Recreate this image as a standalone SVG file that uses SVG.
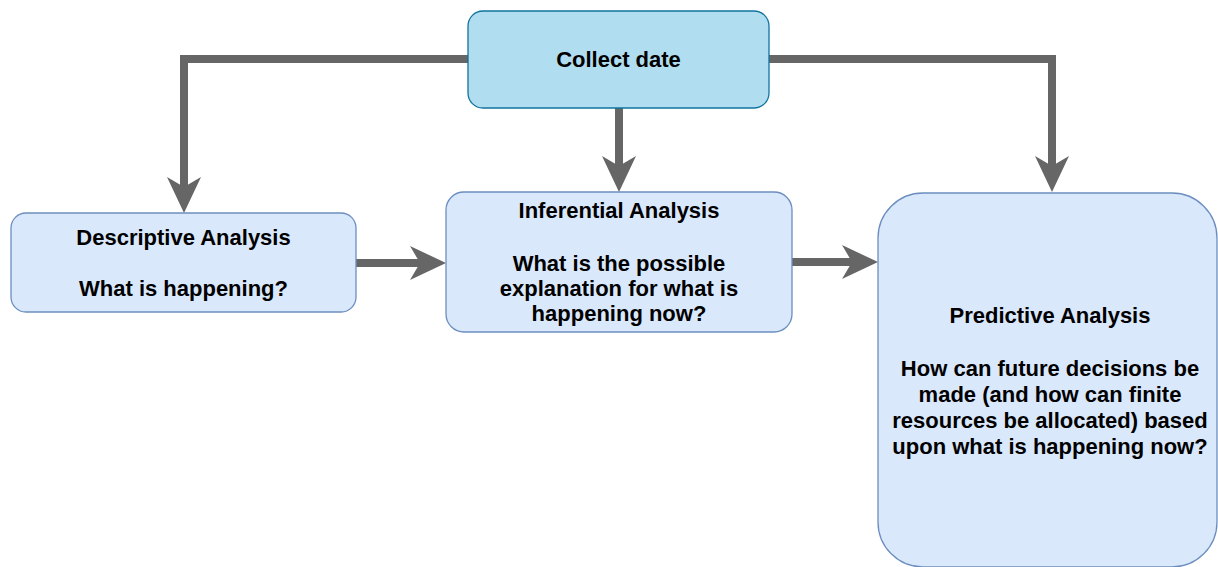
<svg xmlns="http://www.w3.org/2000/svg" width="1218" height="567" viewBox="0 0 1218 567">
  <style>
    .box { fill: #dae8fc; stroke: #6c8ebf; stroke-width: 1.3; }
    .top { fill: #b1ddf0; stroke: #10739e; stroke-width: 1.3; }
    .lbl { font-family: "Liberation Sans", Arial, sans-serif; font-weight: bold; font-size: 22px; fill: #000; text-anchor: middle; }
    .wire { fill: none; stroke: #666666; stroke-width: 8; stroke-linejoin: miter; }
    .head { fill: #666666; }
  </style>
  <rect width="1218" height="567" fill="#ffffff"/>

  <!-- connectors -->
  <g id="connectors">
    <path class="wire" d="M468,59 H184 V190"/>
    <polygon class="head" points="184,213 167,177 184,187 201,177"/>
    <path class="wire" d="M619,108 V170"/>
    <polygon class="head" points="619,192 602,156 619,166 636,156"/>
    <path class="wire" d="M769,59 H1052 V170"/>
    <polygon class="head" points="1052,192 1035,156 1052,166 1069,156"/>
    <path class="wire" d="M356,263 H425"/>
    <polygon class="head" points="446,263 410,246 420,263 410,280"/>
    <path class="wire" d="M792,262 H856"/>
    <polygon class="head" points="878,262 842,245 852,262 842,279"/>
  </g>

  <g id="collect">
    <rect class="top" x="468" y="11" width="301" height="97" rx="15" ry="15"/>
    <text class="lbl" x="618.5" y="67">Collect date</text>
  </g>

  <g id="descriptive">
    <rect class="box" x="11" y="213" width="345" height="99" rx="15" ry="15"/>
    <text class="lbl" x="183.5" y="245">Descriptive Analysis</text>
    <text class="lbl" x="183.5" y="296">What is happening?</text>
  </g>

  <g id="inferential">
    <rect class="box" x="446" y="192" width="346" height="140" rx="18" ry="18"/>
    <text class="lbl" x="619" y="218">Inferential Analysis</text>
    <text class="lbl" x="619" y="271">What is the possible</text>
    <text class="lbl" x="619" y="296">explanation for what is</text>
    <text class="lbl" x="619" y="321">happening now?</text>
  </g>

  <g id="predictive">
    <rect class="box" x="878" y="193" width="339" height="374" rx="45" ry="45"/>
    <text class="lbl" x="1050" y="323">Predictive Analysis</text>
    <text class="lbl" x="1050" y="376">How can future decisions be</text>
    <text class="lbl" x="1050" y="402">made (and how can finite</text>
    <text class="lbl" x="1050" y="428">resources be allocated) based</text>
    <text class="lbl" x="1050" y="454">upon what is happening now?</text>
  </g>
</svg>
